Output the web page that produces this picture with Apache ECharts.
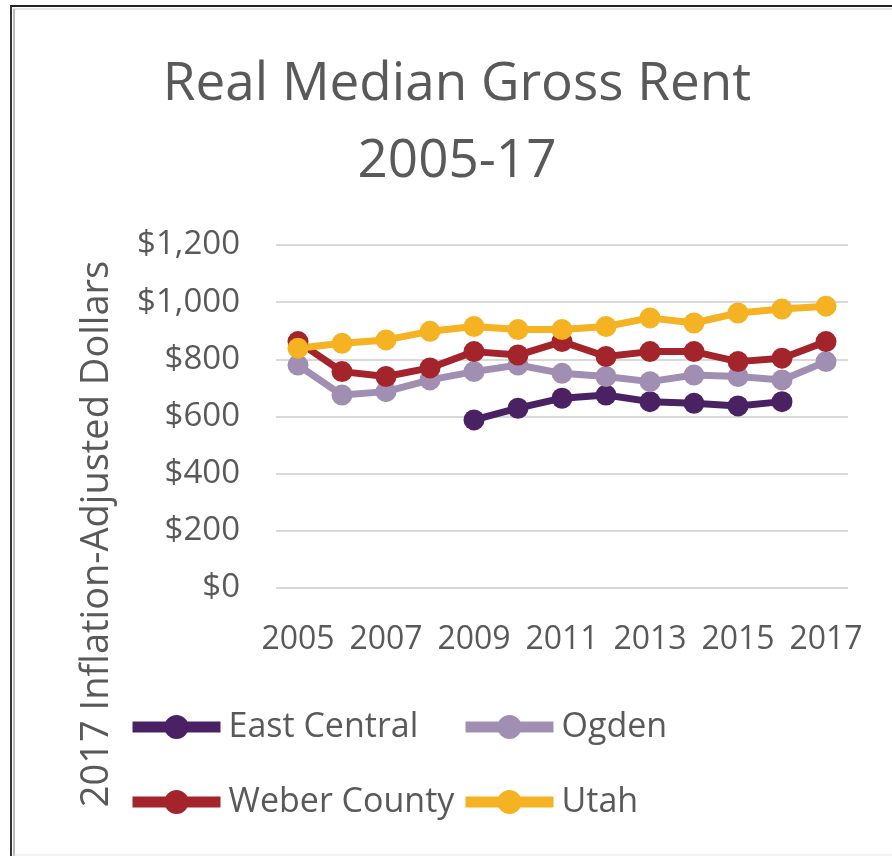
<!DOCTYPE html>
<html>
<head>
<meta charset="utf-8">
<script src="https://cdn.jsdelivr.net/npm/echarts@6/dist/echarts.min.js"></script>
<style>
  html, body { margin: 0; padding: 0; background: #fff; }
  #chart { width: 892px; height: 856px; }
</style>
</head>
<body>
<div id="chart"></div>
<script>
// 年份
var years = ['2005', '2006', '2007', '2008', '2009', '2010', '2011', '2012', '2013', '2014', '2015', '2016', '2017'];
// 各地区租金 (2017 美元)
var eastCentral = [null, null, null, null, 588, 629, 664, 675, 652, 646, 637, 652, null];
var ogden = [780, 675, 687, 728, 757, 780, 751, 740, 722, 745, 740, 728, 792];
var weberCounty = [862, 757, 740, 770, 827, 815, 862, 810, 827, 827, 792, 804, 862];
var utah = [839, 856, 868, 898, 915, 904, 904, 915, 945, 927, 962, 976, 986];

var seriesNames = ['East Central', 'Ogden', 'Weber County', 'Utah'];
var seriesData = [eastCentral, ogden, weberCounty, utah];
var colors = ['#4a2263', '#a18fb3', '#a3242b', '#f5b222'];

var font = 'Open Sans';
var textColor = '#595959';

var chart = echarts.init(document.getElementById('chart'));

// 图例 每个单独定位
var legendPos = [[127, 710], [460, 710], [127, 785], [460, 785]];
var legends = seriesNames.map(function (name, i) {
	return {
		data: [name],
		left: legendPos[i][0],
		top: legendPos[i][1],
		padding: 0,
		itemWidth: 88,
		itemHeight: 30,
		selectedMode: false,
		lineStyle: { width: 11, color: colors[i] },
		textStyle: {
			fontFamily: font,
			fontSize: 34,
			lineHeight: 34,
			color: textColor,
			padding: [0, 0, 0, 3]
		}
	};
});

var option = {
	animation: false,
	color: colors,
	title: {
		text: 'Real Median Gross Rent\n2005-17',
		left: 457,
		top: 46,
		padding: 0,
		textAlign: 'center',
		textStyle: {
			fontFamily: font,
			fontSize: 53,
			lineHeight: 77,
			fontWeight: 'normal',
			color: textColor
		}
	},
	legend: legends,
	grid: {
		left: 276,
		right: 44,
		top: 245,
		bottom: 268
	},
	xAxis: {
		type: 'category',
		data: years,
		axisLine: { show: false },
		axisTick: { show: false },
		axisLabel: {
			interval: 1,
			margin: 36,
			fontFamily: font,
			fontSize: 32,
			lineHeight: 32,
			color: textColor
		}
	},
	yAxis: {
		type: 'value',
		min: 0,
		max: 1200,
		interval: 200,
		name: '2017 Inflation-Adjusted Dollars',
		nameLocation: 'middle',
		nameRotate: 90,
		nameGap: 160,
		nameTextStyle: {
			fontFamily: font,
			fontSize: 38,
			color: textColor,
			padding: [0, 235, 0, 0]
		},
		axisLine: { show: false },
		axisTick: { show: false },
		splitLine: { lineStyle: { color: '#d9d9d9', width: 2 } },
		axisLabel: {
			margin: 36,
			fontFamily: font,
			fontSize: 33,
			color: textColor,
			formatter: function (v) {
				return '$' + v.toLocaleString('en-US');
			}
		}
	},
	graphic: [
		{ type: 'line', shape: { x1: 10, y1: 6, x2: 892, y2: 6 }, style: { stroke: '#222', lineWidth: 2 } },
		{ type: 'line', shape: { x1: 11, y1: 6, x2: 11, y2: 856 }, style: { stroke: '#333', lineWidth: 2 } },
		{ type: 'line', shape: { x1: 13, y1: 9, x2: 892, y2: 9 }, style: { stroke: '#e6e6e6', lineWidth: 2 } },
		{ type: 'line', shape: { x1: 14, y1: 9, x2: 14, y2: 856 }, style: { stroke: '#bbbbbb', lineWidth: 2 } },
		{ type: 'line', shape: { x1: 14, y1: 855, x2: 892, y2: 855 }, style: { stroke: '#e6e6e6', lineWidth: 1 } }
	],
	series: seriesNames.map(function (name, i) {
		return {
			name: name,
			type: 'line',
			data: seriesData[i],
			symbol: 'circle',
			symbolSize: 21,
			showAllSymbol: true,
			lineStyle: { width: 7, color: colors[i] },
			itemStyle: { color: colors[i] },
			emphasis: { disabled: true }
		};
	})
};

chart.setOption(option);
</script>
</body>
</html>
